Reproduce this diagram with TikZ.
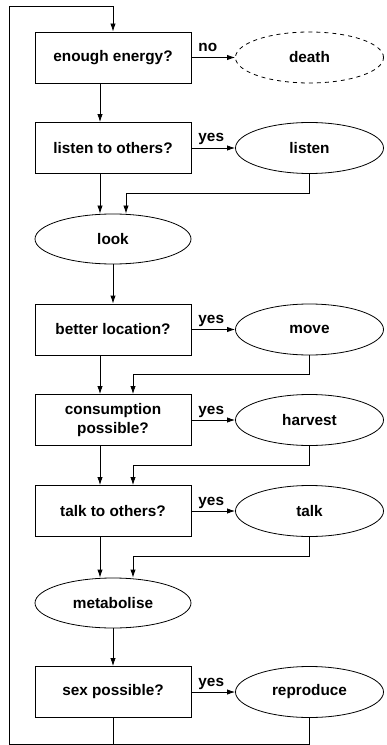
\documentclass[tikz,border=0pt]{standalone}
\usepackage{fontspec}
\setmainfont{Liberation Sans}
\usetikzlibrary{arrows.meta,positioning,calc,shapes.geometric}
\tikzset{font=\fontsize{11.5}{14}\selectfont\bfseries}
\tikzstyle{test}=[rectangle,draw,minimum width=117pt,minimum height=38.25pt,align=center,inner sep=2pt]
\tikzstyle{act}=[ellipse,draw,minimum width=111pt,minimum height=38.25pt,inner sep=1pt]
\tikzstyle{task}=[ellipse,draw,minimum width=117pt,minimum height=37.5pt,inner sep=1pt]
\tikzstyle{lbl}=[anchor=base west,inner sep=0pt,pos=0,xshift=5pt,yshift=4.5pt]

\begin{document}
\begin{tikzpicture}[x=0.75pt,y=-0.75pt,line width=0.6pt,>={Latex[length=6pt,width=4pt]}]
\useasboundingbox (0,0) rectangle (386,745);
\node[test] (E) at (113,57.5) {enough energy?};
\node[act,dashed] (D) at (309.5,57.5) {death};
\node[test] (LQ) at (113,148) {listen to others?};
\node[act] (L) at (309.5,148) {listen};
\node[task] (K) at (113,239) {look};
\node[test] (BQ) at (113,329.5) {better location?};
\node[act] (M) at (309.5,329.5) {move};
\node[test] (CQ) at (113,420) {consumption\\possible?};
\node[act] (H) at (309.5,420) {harvest};
\node[test] (TQ) at (113,511) {talk to others?};
\node[act] (T) at (309.5,511) {talk};
\node[task] (MB) at (113,603) {metabolise};
\node[test] (SQ) at (113,692) {sex possible?};
\node[act] (R) at (309.5,692) {reproduce};
\coordinate (BL) at (9.5,744);
\coordinate (TL) at (9.5,6);
% yes/no branches
\path[->]
(E) edge node[lbl] {no} (D)
(LQ) edge node[lbl] {yes} (L)
(BQ) edge node[lbl] {yes} (M)
(CQ) edge node[lbl] {yes} (H)
(TQ) edge node[lbl] {yes} (T)
(SQ) edge node[lbl] {yes} (R)
(K) edge (BQ)
(MB) edge (SQ);
% main line
\draw[->] ($(E.south)+(-13,0)$) -- ($(LQ.north)+(-13,0)$);
\draw[->] ($(LQ.south)+(-13,0)$) -- ($(K.north)+(-13,0)$);
\draw[->] ($(BQ.south)+(-13,0)$) -- ($(CQ.north)+(-13,0)$);
\draw[->] ($(CQ.south)+(-13,0)$) -- ($(TQ.north)+(-13,0)$);
\draw[->] ($(TQ.south)+(-13,0)$) -- ($(MB.north)+(-13,0)$);
% back from the actions
\draw[->] (L.south) -- ++(0,20) -| ($(K.north)+(13,0)$);
\draw[->] (M.south) -- ++(0,19) -| ($(CQ.north)+(20,0)$);
\draw[->] (H.south) -- ++(0,19) -| ($(TQ.north)+(20,0)$);
\draw[->] (T.south) -- ++(0,19) -| ($(MB.north)+(20,0)$);
% loop
\draw (SQ.south) -- (SQ.south |- BL);
\draw[->] (R.south) |- (BL) -- (TL) -| (E.north);
\end{tikzpicture}
\end{document}
